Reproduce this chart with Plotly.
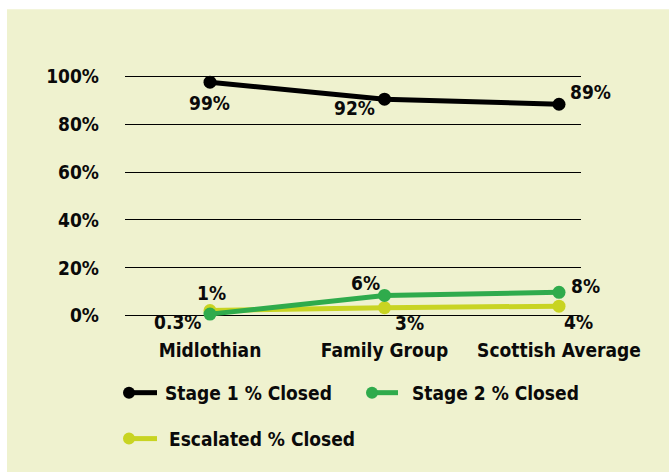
import plotly.graph_objects as go

categories = ["Midlothian", "Family Group", "Scottish Average"]
stage1 = [97.5, 90.4, 88.3]
stage2 = [0.7, 8.5, 9.8]
escalated = [2.2, 3.4, 4.0]
stage1_labels = ["99%", "92%", "89%"]
stage2_labels = ["1%", "6%", "8%"]
escalated_labels = ["0.3%", "3%", "4%"]
y_ticks = [0, 20, 40, 60, 80, 100]
y_tick_labels = ["0%", "20%", "40%", "60%", "80%", "100%"]

FONT = "DejaVu Sans Condensed, DejaVu Sans, sans-serif"
BLACK = "#000000"
GREEN = "#2fab4c"
YELLOW = "#c8d422"
BG = "#eff2cf"
TXT = "#0a0a0a"

W, H = 669, 472
# plot area: y=0 at 316px, y=100 at 76px; extended by 0.5 units each side
L, R, T, B = 125, 88, 74.8, 154.8
pw, ph = W - L - R, H - T - B

def px_x(x):
    return (x - L) / pw

def px_y(y):
    return (H - B - y) / ph

series = [
    ("Escalated % Closed", escalated, YELLOW, escalated_labels,
     [(-32, -11), (25, -15), (19, -16)]),
    ("Stage 2 % Closed", stage2, GREEN, stage2_labels,
     [(2, 21), (-19, 12), (26, 6)]),
    ("Stage 1 % Closed", stage1, BLACK, stage1_labels,
     [(0, -21), (-30, -9), (31, 12)]),
]

fig = go.Figure()
annotations = []
for name, vals, color, labels, offs in series:
    fig.add_trace(go.Scatter(
        x=categories, y=vals, name=name, mode="lines+markers",
        line=dict(color=color, width=5),
        marker=dict(color=color, size=13),
        cliponaxis=False, showlegend=False,
    ))
    for c, v, lab, (dx, dy) in zip(categories, vals, labels, offs):
        annotations.append(dict(
            x=c, y=v, xref="x", yref="y", text=lab, showarrow=False,
            xshift=dx, yshift=dy,
            font=dict(family=FONT, size=19, color=TXT, weight="bold"),
        ))

# custom legend
legend_items = [
    ("Stage 1 % Closed", BLACK, 129, 157, 163, 393),
    ("Stage 2 % Closed", GREEN, 372, 398, 410, 393),
    ("Escalated % Closed", YELLOW, 129, 157, 167, 439),
]
shapes = [dict(type="rect", xref="paper", yref="paper",
               x0=px_x(7), x1=px_x(W + 5), y0=px_y(H + 5), y1=px_y(9),
               fillcolor=BG, line=dict(width=0), layer="below")]
for text, color, mx, lx, tx, ly in legend_items:
    shapes.append(dict(type="line", xref="paper", yref="paper",
                       x0=px_x(mx), x1=px_x(lx), y0=px_y(ly), y1=px_y(ly),
                       line=dict(color=color, width=5)))
    shapes.append(dict(type="circle", xref="paper", yref="paper",
                       x0=px_x(mx - 6), x1=px_x(mx + 6),
                       y0=px_y(ly + 6), y1=px_y(ly - 6),
                       fillcolor=color, line=dict(width=0)))
    annotations.append(dict(
        x=px_x(tx), y=px_y(ly), xref="paper", yref="paper", text=text,
        showarrow=False, xanchor="left", yanchor="middle",
        font=dict(family=FONT, size=19, color=TXT, weight="bold"),
    ))

fig.update_layout(
    width=W, height=H,
    margin=dict(l=L, r=R, t=T, b=B, pad=0),
    paper_bgcolor="white", plot_bgcolor="rgba(0,0,0,0)",
    showlegend=False,
    shapes=shapes, annotations=annotations,
    font=dict(family=FONT, size=19, color=TXT, weight="bold"),
    xaxis=dict(
        type="category", range=[-0.487, 2.126],
        showgrid=False, zeroline=False, showline=False,
        ticks="", ticklabelstandoff=20,
        tickfont=dict(family=FONT, size=19, color=TXT, weight="bold"),
    ),
    yaxis=dict(
        range=[-0.5, 100.5], tickvals=y_ticks, ticktext=y_tick_labels,
        showgrid=True, gridcolor="#000000", gridwidth=1,
        zeroline=False, showline=False, ticks="",
        ticklabelstandoff=25,
        tickfont=dict(family=FONT, size=19, color=TXT, weight="bold"),
    ),
)

fig.write_html("out.html")
